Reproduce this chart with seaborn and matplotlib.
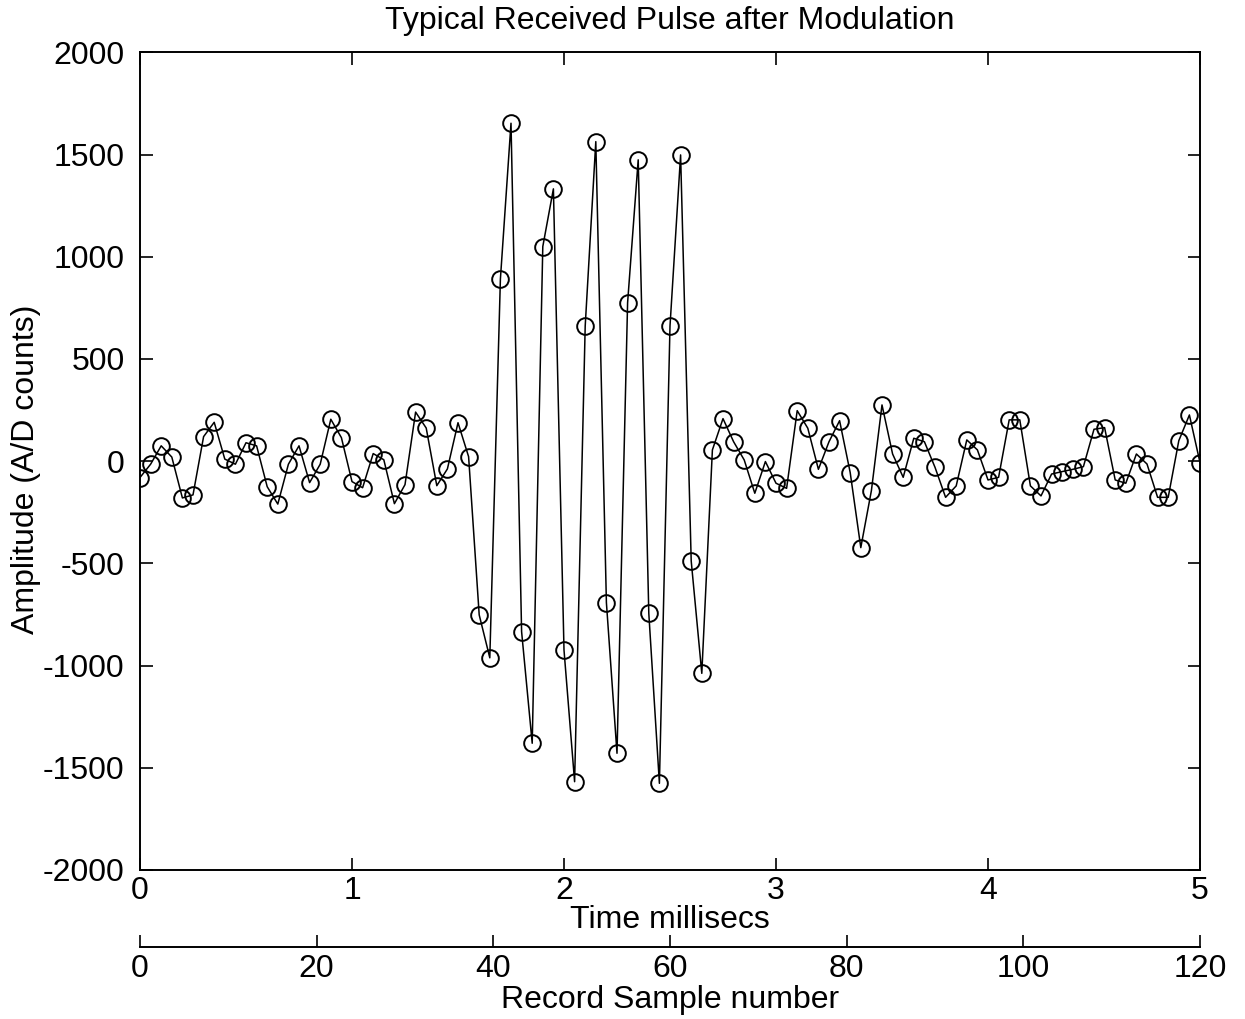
import numpy as np
import pandas as pd
import matplotlib
matplotlib.use("Agg")
import matplotlib.pyplot as plt
import seaborn as sns

amplitude = [
    -80, -15, 75, 20, -180, -165, 120, 190, 10, -15,
    90, 75, -125, -210, -15, 75, -105, -15, 205, 115,
    -100, -130, 37, 7, -208, -115, 240, 162, -120, -38,
    188, 22, -752, -962, 891, 1653, -834, -1380, 1050, 1332,
    -924, -1568, 661, 1563, -692, -1429, 775, 1474, -744, -1576,
    661, 1498, -488, -1038, 55, 208, 95, 6, -157, -2,
    -108, -133, 247, 161, -40, 95, 198, -56, -423, -144,
    275, 35, -79, 112, 95, -30, -177, -121, 104, 55,
    -92, -79, 202, 202, -121, -170, -63, -51, -40, -27,
    156, 164, -92, -108, 35, -14, -177, -177, 100, 226,
    -7,
]
time_ms = np.linspace(0, 5, len(amplitude))
time_ticks = [0, 1, 2, 3, 4, 5]
amp_ticks = [-2000, -1500, -1000, -500, 0, 500, 1000, 1500, 2000]
sample_ticks = [0, 20, 40, 60, 80, 100, 120]

df = pd.DataFrame({"t": time_ms, "a": amplitude})

sns.set_theme(style="white")
plt.rcParams["font.family"] = ["Liberation Sans", "DejaVu Sans"]
plt.rcParams["text.color"] = "black"
plt.rcParams["axes.labelcolor"] = "black"

FS = 23
W, H = 1245, 1019
fig = plt.figure(figsize=(W / 100, H / 100), dpi=100)
ax = fig.add_axes([140 / W, 1 - 870 / H, 1060 / W, (870 - 52.3) / H])

sns.lineplot(data=df, x="t", y="a", ax=ax, color="black", linewidth=1.1,
             marker="o", markersize=12, markerfacecolor="none",
             markeredgecolor="black", markeredgewidth=1.4)

ax.set_xlim(0, 5)
ax.set_ylim(-2000, 2000)
ax.set_xticks(time_ticks)
ax.set_xticklabels([str(t) for t in time_ticks])
ax.set_yticks(amp_ticks)
ax.set_yticklabels([str(v) for v in amp_ticks])
for s in ax.spines.values():
    s.set_color("black")
    s.set_linewidth(1.4)
ax.tick_params(direction="in", length=9, width=1.2, colors="black",
               top=True, right=True, bottom=True, left=True, labelsize=FS)
ax.tick_params(axis="x", pad=4)
ax.tick_params(axis="y", pad=11)
ax.set_xlabel("Time millisecs", fontsize=FS)
ax.xaxis.set_label_coords(670 / W, 1 - 905 / H, transform=fig.transFigure)
ax.set_ylabel("Amplitude (A/D counts)", fontsize=FS)
ax.yaxis.set_label_coords(41 / W, 1 - 469 / H, transform=fig.transFigure)
ax.set_title("Typical Received Pulse after Modulation", fontsize=FS, pad=17)

ax2 = fig.add_axes([140 / W, 1 - 946.7 / H, 1060 / W, 0.0001])
ax2.set_xlim(0, 120)
ax2.set_ylim(0, 1)
ax2.set_xticks(sample_ticks)
ax2.set_xticklabels([str(v) for v in sample_ticks])
ax2.set_yticks([])
for k in ["top", "left", "right"]:
    ax2.spines[k].set_visible(False)
ax2.spines["bottom"].set_color("black")
ax2.spines["bottom"].set_linewidth(1.4)
ax2.patch.set_alpha(0)
ax2.tick_params(axis="x", direction="in", length=9, width=1.2, colors="black",
                bottom=True, labelsize=FS, pad=5)
ax2.set_xlabel("Record Sample number", fontsize=FS)
ax2.xaxis.set_label_coords(670 / W, 1 - 985 / H, transform=fig.transFigure)

fig.savefig("out.png", dpi=100, facecolor="white")
